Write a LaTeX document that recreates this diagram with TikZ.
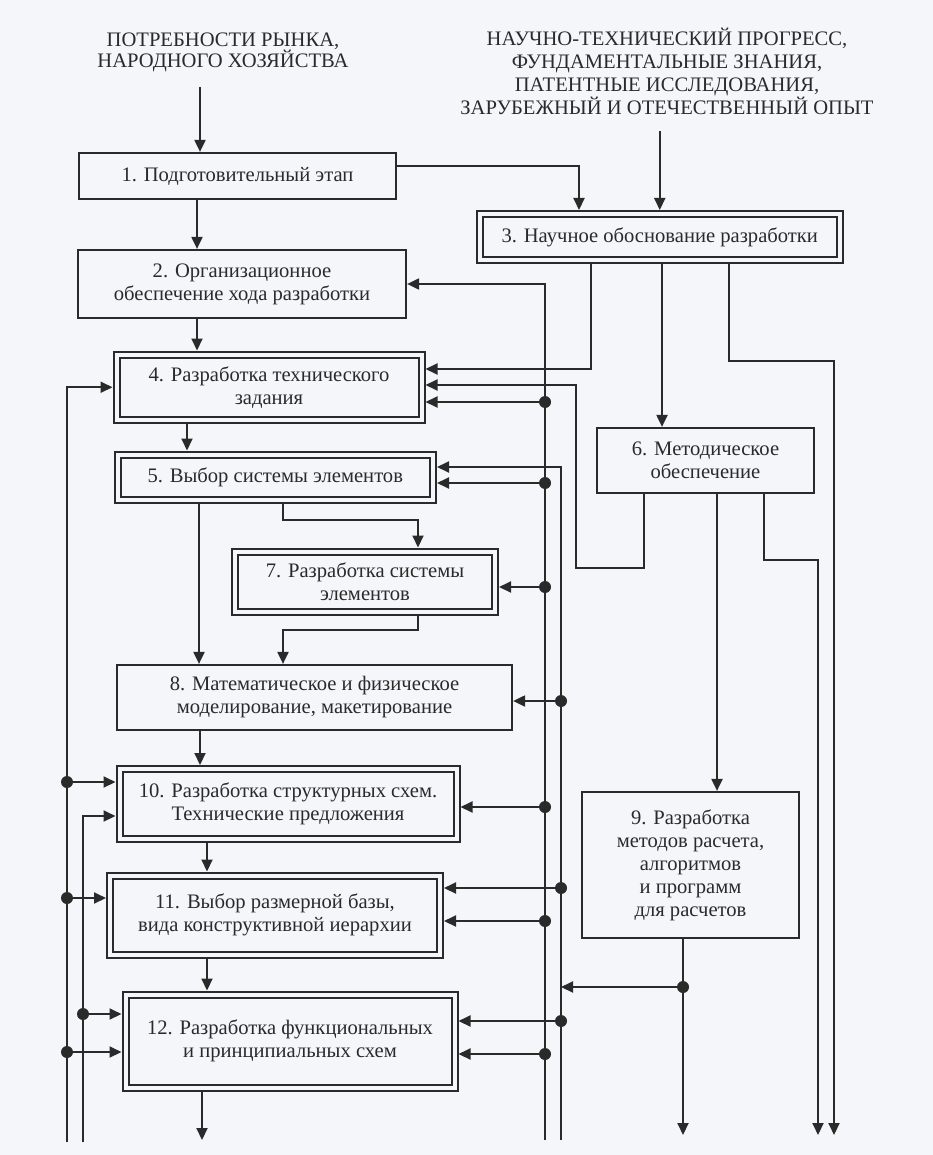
\documentclass[tikz,border=0pt]{standalone}
\usepackage{fontspec}
\setmainfont{Liberation Serif}
\usetikzlibrary{arrows.meta,calc}
\definecolor{ink}{HTML}{2A2A2A}
\definecolor{paper}{HTML}{F4F6F9}
\newcommand\boxfont{\fontsize{20.6}{23}\selectfont}
\begin{document}
\begin{tikzpicture}[x=1pt,y=-1pt,
  box/.style={draw=ink, line width=2.2pt, fill=paper, align=center, inner sep=0pt, font=\boxfont, text=ink},
  dbox/.style={box, line width=2pt, double=paper, double distance=4pt, outer sep=4pt},
  arr/.style={draw=ink, line width=2pt, -{Triangle[length=12pt,width=11pt]}},
  dotc/.style={circle, fill=ink, inner sep=0pt, minimum size=12pt},
  lbl/.style={align=center, font=\boxfont, text=ink, inner sep=0pt}]
\fill[paper] (0,0) rectangle (933,1155);
\useasboundingbox (0,0) rectangle (933,1155);

% headings
\node[lbl] (t1) at (223,52) {ПОТРЕБНОСТИ РЫНКА,\\[-2pt]НАРОДНОГО ХОЗЯЙСТВА};
\node[lbl] (t2) at (667,71) {НАУЧНО-ТЕХНИЧЕСКИЙ ПРОГРЕСС,\\ФУНДАМЕНТАЛЬНЫЕ ЗНАНИЯ,\\ПАТЕНТНЫЕ ИССЛЕДОВАНИЯ,\\ЗАРУБЕЖНЫЙ И ОТЕЧЕСТВЕННЫЙ ОПЫТ};

% boxes
\node[box, minimum width=317, minimum height=46] (b1) at (237.5,176) {1. Подготовительный этап};
\node[box, minimum width=328, minimum height=68] (b2) at (242,284) {2. Организационное\\обеспечение хода разработки};
\node[dbox, minimum width=359.5, minimum height=46] (b3) at (659.75,237) {3. Научное обоснование разработки};
\node[dbox, minimum width=305, minimum height=65.5] (b4) at (269,387.25) {4. Разработка технического\\задания};
\node[dbox, minimum width=315.5, minimum height=45.5] (b5) at (275.25,477.25) {5. Выбор системы элементов};
\node[box, minimum width=217, minimum height=65] (b6) at (705.5,460.5) {6. Методическое\\обеспечение};
\node[dbox, minimum width=260, minimum height=60] (b7) at (365,581.5) {7. Разработка системы\\элементов};
\node[box, minimum width=395, minimum height=65] (b8) at (314.5,697.5) {8. Математическое и физическое\\моделирование, макетирование};
\node[box, minimum width=217, minimum height=146] (b9) at (690.5,865) {9. Разработка\\методов расчета,\\алгоритмов\\и программ\\для расчетов};
\node[dbox, minimum width=337, minimum height=70] (b10) at (288,804) {10. Разработка структурных схем.\\Технические предложения};
\node[dbox, minimum width=330, minimum height=79.5] (b11) at (275,915.25) {11. Выбор размерной базы,\\вида конструктивной иерархии};
\node[dbox, minimum width=329, minimum height=93] (b12) at (290,1041) {12. Разработка функциональных\\и принципиальных схем};

% free ends
\coordinate (in1) at (200,87);
\coordinate (in2) at (659.75,131);
\coordinate (L1b) at (67,1142);
\coordinate (L2b) at (83,1142);
\coordinate (Ab) at (545,1140);
\coordinate (Bb) at (561,1140);
\coordinate (o12) at (202,1140);
\coordinate (o9) at (683,1135);
\coordinate (oR1) at (818,1135);
\coordinate (oR2) at (834,1135);

% main chain
\draw[arr] (in1) -- (in1 |- b1.north);
\draw[arr] (in2) -- (b3.north);
\draw[arr] (b1.east |- 0,166) -| (579,0 |- b3.north);
\draw[arr] (197,0 |- b1.south) -- (197,0 |- b2.north);
\draw[arr] (197,0 |- b2.south) -- (197,0 |- b4.north);
\draw[arr] (187,0 |- b4.south) -- (187,0 |- b5.north);
\draw[arr] (199,0 |- b5.south) -- (199,0 |- b8.north);
\draw[arr] (283,0 |- b5.south) |- (418,520) -- (418,0 |- b7.north);
\draw[arr] (418,0 |- b7.south) |- (283,630) -- (283,0 |- b8.north);
\draw[arr] (200,0 |- b8.south) -- (200,0 |- b10.north);
\draw[arr] (207,0 |- b10.south) -- (207,0 |- b11.north);
\draw[arr] (207,0 |- b11.south) -- (207,0 |- b12.north);
\draw[arr] (202,0 |- b12.south) -- (o12);

% right side
\draw[arr] (591,0 |- b3.south) |- (b4.east |- 0,369);
\draw[arr] (662,0 |- b3.south) -- (662,0 |- b6.north);
\draw[arr] (729,0 |- b3.south) |- (834,361) -- (oR2);
\draw[arr] (644,0 |- b6.south) |- (576,568) |- (b4.east |- 0,385);
\draw[arr] (717,0 |- b6.south) -- (717,0 |- b9.north);
\draw[arr] (764,0 |- b6.south) |- (818,560) -- (oR1);
\draw[arr] (683,0 |- b9.south) -- (o9);

% bus A
\draw[arr] (Ab) |- (b2.east);
\foreach \y/\t [count=\i] in {402/b4, 483/b5, 587/b7, 807/b10, 921/b11, 1054/b12}{
  \node[dotc] (dA\i) at (545,\y) {};
  \draw[arr] (dA\i) -- (\t.east |- dA\i);
}
% bus B
\draw[arr] (Bb) |- (b5.east |- 0,467);
\foreach \y/\t [count=\i] in {701/b8, 888/b11, 1021/b12}{
  \node[dotc] (dB\i) at (561,\y) {};
  \draw[arr] (dB\i) -- (\t.east |- dB\i);
}
\node[dotc] (d9) at (683,987) {};
\draw[arr] (d9) -- (Bb |- d9);

% left buses
\draw[arr] (L1b) |- (b4.west);
\foreach \y/\t [count=\i] in {782/b10, 898/b11, 1052/b12}{
  \node[dotc] (dL\i) at (67,\y) {};
  \draw[arr] (dL\i) -- (\t.west |- dL\i);
}
\draw[arr] (L2b) |- (b10.west |- 0,816);
\node[dotc] (dM1) at (83,1014) {};
\draw[arr] (dM1) -- (b12.west |- dM1);
\end{tikzpicture}
\end{document}
